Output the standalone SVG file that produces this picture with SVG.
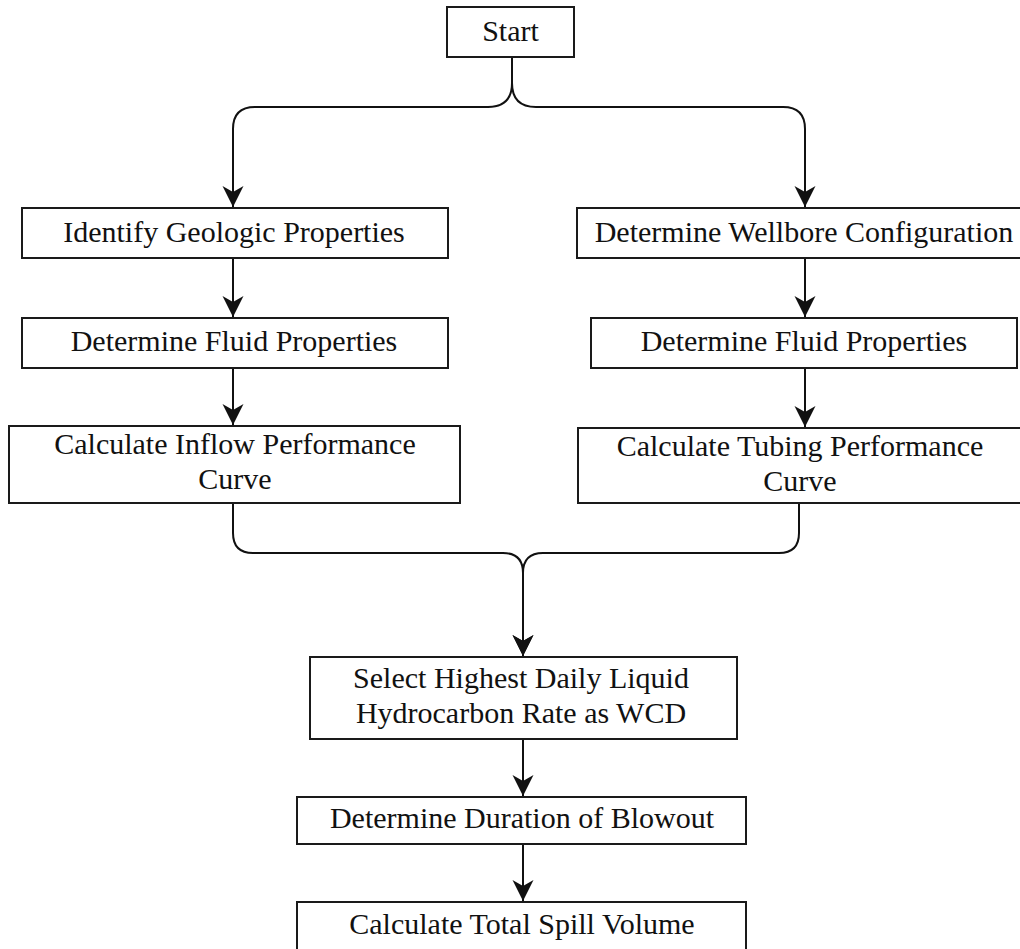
<svg xmlns="http://www.w3.org/2000/svg" width="1020" height="949" viewBox="0 0 1020 949">
<style>
.box{fill:#ffffff;stroke:#1a1a1a;stroke-width:2}
.lbl{font-family:"Liberation Serif","Times New Roman",serif;font-size:30px;fill:#111111;text-anchor:middle}
.edge{fill:none;stroke:#111111;stroke-width:2}
</style>
<defs>
<marker id="ah" markerUnits="userSpaceOnUse" markerWidth="24" markerHeight="24" viewBox="-22 -12 24 24" refX="0" refY="0" orient="auto" overflow="visible">
<path d="M0,0 L-21,-10.5 L-15,0 L-21,10.5 Z" fill="#111111"/>
</marker>
</defs>
<rect width="1020" height="949" fill="#ffffff"/>
<g id="connectors">
<path class="edge" d="M512,57 V83 Q512,107 488,107 H255 Q233,107 233,129 V207" marker-end="url(#ah)"/>
<path class="edge" d="M512,57 V83 Q512,107 536,107 H783 Q805,107 805,129 V207" marker-end="url(#ah)"/>
<path class="edge" d="M233,258 V317" marker-end="url(#ah)"/>
<path class="edge" d="M233,368 V425" marker-end="url(#ah)"/>
<path class="edge" d="M805,258 V317" marker-end="url(#ah)"/>
<path class="edge" d="M805,368 V427" marker-end="url(#ah)"/>
<path class="edge" d="M233,503 V533 Q233,553 253,553 H503 Q523,553 523,573 V656" marker-end="url(#ah)"/>
<path class="edge" d="M799,503 V533 Q799,553 779,553 H543 Q523,553 523,573 V656" marker-end="url(#ah)"/>
<path class="edge" d="M523,739 V796" marker-end="url(#ah)"/>
<path class="edge" d="M523,844 V901" marker-end="url(#ah)"/>
</g>
<g id="start">
<rect class="box" x="447" y="7" width="127" height="50"/>
<text class="lbl" x="510.5" y="41">Start</text>
</g>
<g id="geologic">
<rect class="box" x="22" y="208" width="426" height="50"/>
<text class="lbl" x="234" y="242">Identify Geologic Properties</text>
</g>
<g id="fluid-left">
<rect class="box" x="22" y="318" width="426" height="50"/>
<text class="lbl" x="234" y="351">Determine Fluid Properties</text>
</g>
<g id="inflow">
<rect class="box" x="9" y="426" width="451" height="77"/>
<text class="lbl" x="235" y="454">Calculate Inflow Performance</text>
<text class="lbl" x="235" y="489">Curve</text>
</g>
<g id="wellbore">
<rect class="box" x="577" y="208" width="456" height="50"/>
<text class="lbl" x="804" y="242">Determine Wellbore Configuration</text>
</g>
<g id="fluid-right">
<rect class="box" x="591" y="318" width="426" height="50"/>
<text class="lbl" x="804" y="351">Determine Fluid Properties</text>
</g>
<g id="tubing">
<rect class="box" x="578" y="428" width="455" height="75"/>
<text class="lbl" x="800" y="456">Calculate Tubing Performance</text>
<text class="lbl" x="800" y="491">Curve</text>
</g>
<g id="select">
<rect class="box" x="310" y="657" width="427" height="82"/>
<text class="lbl" x="521" y="688">Select Highest Daily Liquid</text>
<text class="lbl" x="521" y="723">Hydrocarbon Rate as WCD</text>
</g>
<g id="duration">
<rect class="box" x="297" y="797" width="449" height="47"/>
<text class="lbl" x="522" y="828">Determine Duration of Blowout</text>
</g>
<g id="total">
<rect class="box" x="297" y="902" width="449" height="50"/>
<text class="lbl" x="522" y="934">Calculate Total Spill Volume</text>
</g>
</svg>
